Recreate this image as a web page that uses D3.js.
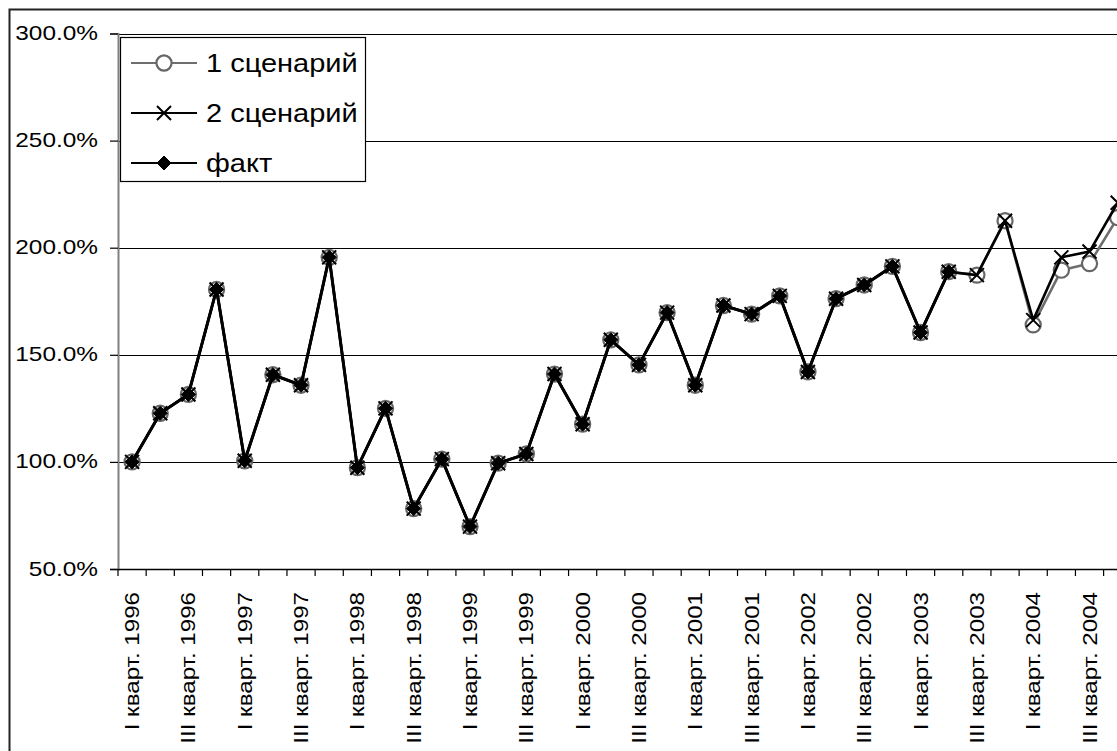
<!DOCTYPE html>
<html>
<head>
<meta charset="utf-8">
<script src="https://cdn.jsdelivr.net/npm/d3@7"></script>
<style>
  html, body { margin: 0; padding: 0; background: #fff; }
  svg { display: block; }
  svg text { font-family: "Liberation Sans", Arial, sans-serif; }
</style>
</head>
<body>
<svg id="chart" width="1117" height="751"></svg>
<script>
// Quarter names and years used to build the category axis
const quarters = ["I", "II", "III", "IV"];
const years = [1996, 1997, 1998, 1999, 2000, 2001, 2002, 2003, 2004];
const categories = years.flatMap(yr => quarters.map(q => `${q} кварт. ${yr}`));

// Actual index (fraction of base period), I кварт. 1996 – II кварт. 2003
const fact = [
  1.000, 1.227, 1.315, 1.805,
  1.005, 1.407, 1.358, 1.955,
  0.973, 1.250, 0.782, 1.013,
  0.698, 0.994, 1.037, 1.410,
  1.176, 1.570, 1.453, 1.697,
  1.358, 1.730, 1.690, 1.775,
  1.420, 1.762, 1.826, 1.913,
  1.604, 1.888
];

// Scenario forecasts, III кварт. 2003 – IV кварт. 2004
const forecast1 = [1.872, 2.126, 1.640, 1.895, 1.926, 2.140];
const forecast2 = [1.872, 2.126, 1.662, 1.955, 1.982, 2.210];

const scenario1 = fact.concat(forecast1);
const scenario2 = fact.concat(forecast2);

const yTicks = [0.5, 1.0, 1.5, 2.0, 2.5, 3.0];
const legendNames = ["1 сценарий", "2 сценарий", "факт"];

const svg = d3.select("#chart");

const plot = { left: 118, top: 33.5, bottom: 569, step: 28.16 };

const x = d3.scaleBand()
  .domain(categories)
  .range([plot.left, plot.left + plot.step * categories.length])
  .padding(0);
const cx = c => x(c) + x.bandwidth() / 2;

const y = d3.scaleLinear()
  .domain([0.5, 3.0])
  .range([plot.bottom, plot.top]);

// Outer chart frame
svg.append("rect")
  .attr("x", 9.5).attr("y", 9.5)
  .attr("width", 1200).attr("height", 900)
  .attr("fill", "#fff")
  .attr("stroke", "#222").attr("stroke-width", 2);

// Horizontal gridlines
svg.append("g")
  .selectAll("line")
  .data(yTicks.slice(1))
  .join("line")
  .attr("x1", plot.left).attr("x2", 1117)
  .attr("y1", d => Math.round(y(d)) + 0.5).attr("y2", d => Math.round(y(d)) + 0.5)
  .attr("stroke", "#000").attr("stroke-width", 1.2);

// Y axis
const yAxis = svg.append("g")
  .attr("transform", `translate(${plot.left},0)`)
  .call(d3.axisLeft(y).tickValues(yTicks).tickFormat(d3.format(".1%")).tickSize(8).tickPadding(0));
yAxis.attr("font-family", null);
yAxis.select(".domain").attr("stroke", "#808080").attr("stroke-width", 2);
yAxis.selectAll(".tick line").attr("stroke", "#000").attr("stroke-width", 1.2);
yAxis.selectAll(".tick text")
  .attr("x", null).attr("dy", null)
  .attr("text-anchor", "end")
  .attr("transform", "translate(-20,6) scale(1.22,1)")
  .attr("font-size", 20)
  .attr("fill", "#000");

// X axis: ticks between categories, labels on every second quarter
const xAxisG = svg.append("g");
xAxisG.append("line")
  .attr("x1", plot.left).attr("x2", 1117)
  .attr("y1", plot.bottom + 0.5).attr("y2", plot.bottom + 0.5)
  .attr("stroke", "#000").attr("stroke-width", 1.5);
xAxisG.selectAll("line.tick")
  .data(d3.range(categories.length + 1))
  .join("line")
  .attr("class", "tick")
  .attr("x1", i => plot.left + i * x.step()).attr("x2", i => plot.left + i * x.step())
  .attr("y1", plot.bottom).attr("y2", plot.bottom + 7)
  .attr("stroke", "#000").attr("stroke-width", 1.2);
xAxisG.selectAll("text")
  .data(categories.filter((c, i) => i % 2 === 0))
  .join("text")
  .attr("transform", c => `translate(${cx(c) + 7},592) rotate(-90) scale(1.15,1)`)
  .attr("text-anchor", "end")
  .attr("font-size", 21)
  .attr("fill", "#000")
  .text(c => c);

// Line series
const line = d3.line()
  .x((d, i) => cx(categories[i]))
  .y(d => y(d));

const circleSym = d3.symbol().type(d3.symbolCircle).size(180);
const crossPath = s => `M${-s},${-s}L${s},${s}M${-s},${s}L${s},${-s}`;
const diamondPath = s => `M0,${-s}L${s},0L0,${s}L${-s},0Z`;

function drawSeries(values, color, width, marker) {
  const g = svg.append("g");
  g.append("path")
    .datum(values)
    .attr("d", line)
    .attr("fill", "none")
    .attr("stroke", color)
    .attr("stroke-width", width)
    .attr("stroke-linejoin", "round");
  g.selectAll("path.m")
    .data(values)
    .join("path")
    .attr("class", "m")
    .attr("transform", (d, i) => `translate(${cx(categories[i])},${y(d)})`)
    .call(marker);
}

const circleMarker = sel => sel.attr("d", circleSym())
  .attr("fill", "#fff").attr("stroke", "#666").attr("stroke-width", 2.2);
const crossMarker = sel => sel.attr("d", crossPath(7))
  .attr("fill", "none").attr("stroke", "#000").attr("stroke-width", 2);
const diamondMarker = sel => sel.attr("d", diamondPath(7))
  .attr("fill", "#000").attr("stroke", "#000").attr("stroke-width", 1);

drawSeries(scenario1, "#6e6e6e", 2.6, circleMarker);
drawSeries(scenario2, "#000", 2.6, crossMarker);
drawSeries(fact, "#000", 3, diamondMarker);

// Legend
const legend = svg.append("g");
legend.append("rect")
  .attr("x", 120.5).attr("y", 37.5)
  .attr("width", 245).attr("height", 144)
  .attr("fill", "#fff").attr("stroke", "#000").attr("stroke-width", 1.2);

const legendRows = [
  { name: legendNames[0], color: "#6e6e6e", marker: circleMarker },
  { name: legendNames[1], color: "#000", marker: crossMarker },
  { name: legendNames[2], color: "#000", marker: diamondMarker }
];
const rowY = d3.scalePoint().domain(legendNames).range([63, 163]);

legendRows.forEach(r => {
  const ry = rowY(r.name);
  legend.append("line")
    .attr("x1", 131).attr("x2", 197)
    .attr("y1", ry).attr("y2", ry)
    .attr("stroke", r.color).attr("stroke-width", 2.2);
  legend.append("path")
    .attr("transform", `translate(164,${ry})`)
    .call(r.marker);
  legend.append("text")
    .attr("transform", `translate(206,${ry + 9}) scale(1.16,1)`)
    .attr("font-size", 25)
    .attr("fill", "#000")
    .text(r.name);
});
</script>
</body>
</html>
